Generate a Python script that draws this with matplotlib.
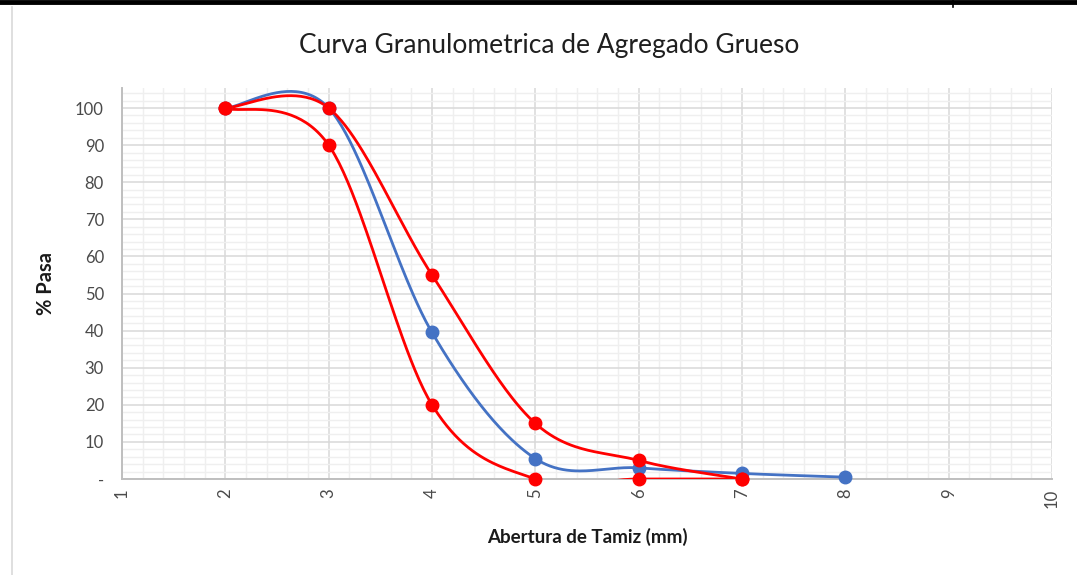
import numpy as np
import matplotlib
matplotlib.use("Agg")
import matplotlib.pyplot as plt
from matplotlib.lines import Line2D
from matplotlib.ticker import MultipleLocator, FixedLocator, FixedFormatter

# ---- data ----
abertura_muestra = [2, 3, 4, 5, 6, 7, 8]
pasa_muestra = [100, 100, 39.5, 5.5, 3, 1.5, 0.5]
abertura_limites = [2, 3, 4, 5, 6, 7]
pasa_lim_sup = [100, 100, 55, 15, 5, 0]
pasa_lim_inf = [100, 90, 20, 0, 0, 0]
x_ticks = list(range(1, 11))
x_tick_labels = [str(v) for v in x_ticks]
y_ticks = list(range(0, 101, 10))
y_tick_labels = ['-'] + [str(v) for v in range(10, 101, 10)]

title = "Curva Granulometrica de Agregado Grueso"
xlabel = "Abertura de Tamiz (mm)"
ylabel = "% Pasa"

BLUE = "#4472C4"
RED = "#FF0000"
FONT = ["Lato", "DejaVu Sans"]


def smooth(xs, ys, n=50):
    """Excel-like smoothed line (Catmull-Rom Bezier)."""
    P = np.column_stack([xs, ys]).astype(float)
    ext = np.vstack([P[0], P, P[-1]])
    out = []
    t = np.linspace(0, 1, n)[:, None]
    for i in range(len(P) - 1):
        p0, p1, p2, p3 = ext[i], ext[i + 1], ext[i + 2], ext[i + 3]
        c1 = p1 + (p2 - p0) / 6.0
        c2 = p2 - (p3 - p1) / 6.0
        seg = ((1 - t) ** 3) * p1 + 3 * ((1 - t) ** 2) * t * c1 + 3 * (1 - t) * (t ** 2) * c2 + (t ** 3) * p2
        out.append(seg if i == 0 else seg[1:])
    out = np.vstack(out)
    return out[:, 0], out[:, 1]


plt.rcParams['font.family'] = FONT
fig = plt.figure(figsize=(10.77, 5.75), dpi=100)
fig.patch.set_facecolor("white")

W, H = 1077, 575
ax = fig.add_axes([122 / W, (H - 479) / H, (1052 - 122) / W, (479 - 88) / H])

ax.set_xlim(1, 10)
ax.set_ylim(0, 105.4)

# grids
ax.xaxis.set_major_locator(FixedLocator(x_ticks))
ax.xaxis.set_major_formatter(FixedFormatter(x_tick_labels))
ax.yaxis.set_major_locator(FixedLocator(y_ticks))
ax.yaxis.set_major_formatter(FixedFormatter(y_tick_labels))
ax.xaxis.set_minor_locator(MultipleLocator(0.2))
ax.yaxis.set_minor_locator(MultipleLocator(2))
ax.grid(which='minor', color='#efefef', linewidth=1.0, zorder=0)
ax.grid(which='major', color='#d9d9d9', linewidth=1.1, zorder=0.5)
ax.set_axisbelow(True)
ax.tick_params(which='both', length=0)
ax.tick_params(axis='y', labelsize=12, labelcolor='#4a4a4a', pad=13)
ax.tick_params(axis='x', labelsize=12, labelcolor='#4a4a4a', pad=7, labelrotation=90)
for lab in ax.get_xticklabels():
    lab.set_verticalalignment('top')

for s in ['top', 'right']:
    ax.spines[s].set_visible(False)
for s in ['left', 'bottom']:
    ax.spines[s].set_color('#bfbfbf')
    ax.spines[s].set_linewidth(1.4)

# series
for xs, ys, col in [(abertura_muestra, pasa_muestra, BLUE),
                    (abertura_limites, pasa_lim_sup, RED),
                    (abertura_limites, pasa_lim_inf, RED)]:
    sx, sy = smooth(xs, ys)
    ax.plot(sx, sy, color=col, linewidth=2.0, zorder=3, solid_capstyle='round')
    ax.plot(xs, ys, linestyle='none', marker='o', markersize=9, color=col, zorder=4, clip_on=False)

ax.set_xlabel(xlabel, fontsize=13.5, fontweight='bold', color='#1a1a1a', labelpad=14)
ax.set_ylabel(ylabel, fontsize=14.5, fontweight='bold', color='#1a1a1a', labelpad=14)

fig.text(549 / W, 1 - 45 / H, title, fontsize=19, color='#1f1f1f', ha='center', va='center')

# surrounding frame pieces of the captured sheet
fig.add_artist(Line2D([0, 1], [1 - 2 / H, 1 - 2 / H], transform=fig.transFigure, color='black', linewidth=3.5))
fig.add_artist(Line2D([12 / W, 12 / W], [0, 1 - 7 / H], transform=fig.transFigure, color='#d9d9d9', linewidth=1.2))
fig.add_artist(Line2D([953 / W, 953 / W], [1 - 7 / H, 1], transform=fig.transFigure, color='black', linewidth=1.2))

fig.savefig("out.png", dpi=100, facecolor='white')
